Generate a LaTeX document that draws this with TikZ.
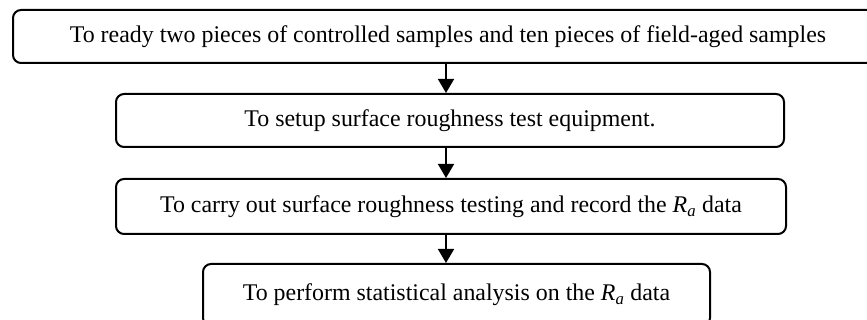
\documentclass[tikz,border=0pt]{standalone}
\usepackage{fontspec}
\setmainfont{Liberation Serif}
\usetikzlibrary{arrows.meta, positioning}
\newcommand{\Ra}{\textit{R}\textsubscript{\textit{a}}}

\begin{document}
\begin{tikzpicture}[
  x=1pt, y=-1pt,
  font=\fontsize{23.9}{28}\selectfont,
  box/.style   ={draw=black, rounded corners=8pt, line width=2pt,
                 minimum height=53pt, inner sep=0pt, anchor=north west},
  flow/.style  ={-{Triangle[length=14pt, width=16pt]}, line width=1.6pt},
]
\useasboundingbox (0,0) rectangle (867,320);

\node[box, minimum width=870pt] (ready) at (12,9)
      {To ready two pieces of controlled samples and ten pieces of field-aged samples};
\node[box, minimum width=668pt] (setup) at (115,93)
      {To setup surface roughness test equipment.};
\node[box, minimum width=670pt, minimum height=55pt] (test) at (115,178)
      {To carry out surface roughness testing and record the \Ra{} data};
\node[box, minimum width=507pt, minimum height=62pt] (stat) at (202,263)
      {\raisebox{4pt}{To perform statistical analysis on the \Ra{} data}};

\coordinate (axis) at (446,0);
\draw[flow] (ready.south -| axis) -- (setup.north -| axis);
\draw[flow] (setup.south -| axis) -- (test.north -| axis);
\draw[flow] (test.south -| axis)  -- (stat.north -| axis);

\end{tikzpicture}
\end{document}
